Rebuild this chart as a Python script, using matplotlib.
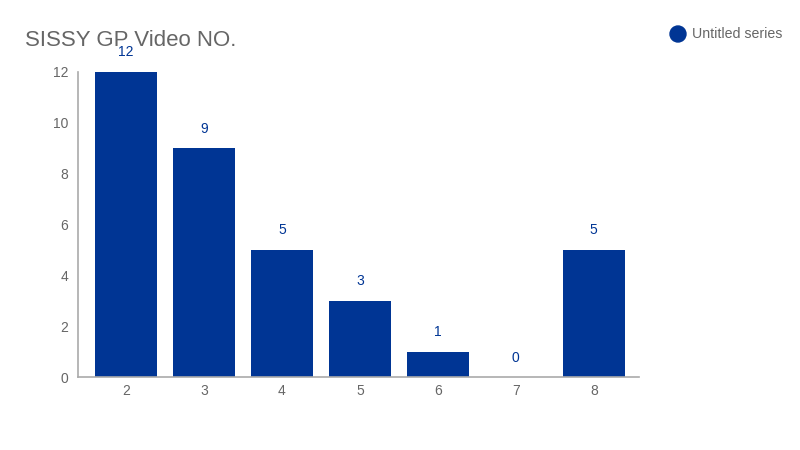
import matplotlib
matplotlib.use('Agg')
import matplotlib.pyplot as plt
from matplotlib.patches import Ellipse

plt.rcParams['font.family'] = ['Liberation Sans', 'DejaVu Sans']

# chart data
categories = ['2', '3', '4', '5', '6', '7', '8']
values = [12, 9, 5, 3, 1, 0, 5]
y_ticks = [0, 2, 4, 6, 8, 10, 12]

bar_color = '#003594'
text_gray = '#666666'

fig = plt.figure(figsize=(8, 4.5), dpi=100)
ax = fig.add_axes([0.0975, 0.1622, 0.701, 0.678])

x = list(range(len(categories)))
ax.bar(x, values, width=0.795, color=bar_color, zorder=2)

# value labels above bars
for xi, v in zip(x, values):
    ax.annotate(str(v), (xi, v), xytext=(0, 14), textcoords='offset points',
                ha='center', va='center', color=bar_color, fontsize=10)

ax.set_xlim(-0.615, 6.577)
ax.set_ylim(0, 12)
ax.set_xticks(x)
ax.set_xticklabels(categories)
ax.set_yticks(y_ticks)
ax.tick_params(length=0, colors=text_gray, labelsize=10)
ax.tick_params(axis='y', pad=7)
ax.tick_params(axis='x', pad=5)

for side in ['top', 'right']:
    ax.spines[side].set_visible(False)
for side in ['left', 'bottom']:
    ax.spines[side].set_color('#aaaaaa')
    ax.spines[side].set_linewidth(1.2)

# title and legend
fig.text(25 / 800, 1 - 40 / 450, 'SISSY GP Video NO.', fontsize=16, color=text_gray,
         ha='left', va='center')
fig.patches.append(Ellipse((678 / 800, 1 - 34 / 450), 16 / 800, 16 / 450,
                           transform=fig.transFigure, color=bar_color, figure=fig))
fig.text(692 / 800, 1 - 34 / 450, 'Untitled series', fontsize=10.2, color=text_gray,
         ha='left', va='center')

fig.savefig('out.png', dpi=100)
